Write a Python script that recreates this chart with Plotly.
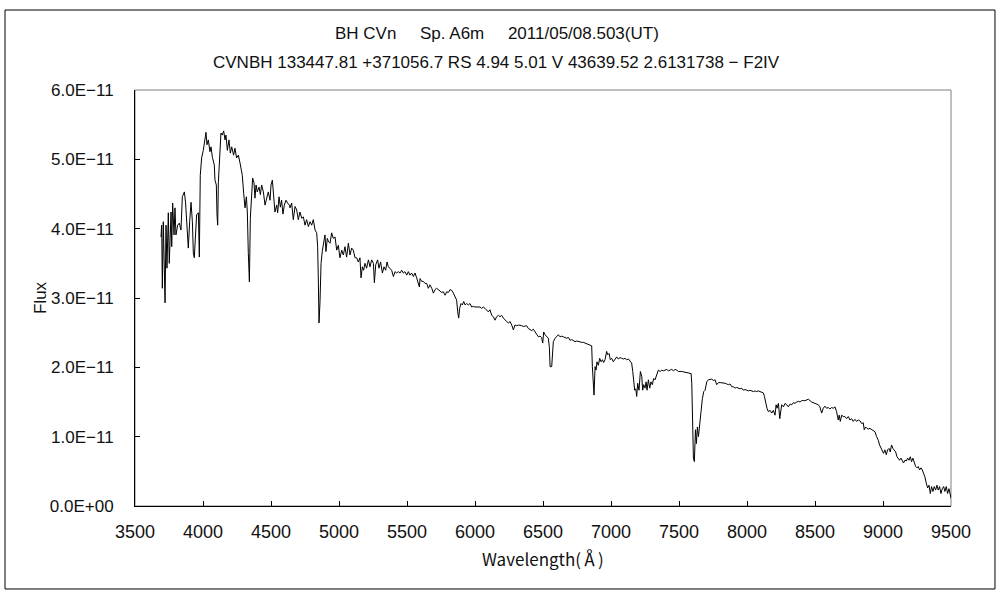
import plotly.graph_objects as go

# Wavelength (Angstrom) and flux (units of 1e-11), by region
blue_wl = [3691,3696,3701,3708,3721,3728,3735,3745,3752,3765,
           3770,3777,3787,3794,3801,3814,3826,3838,3848,3863,
           3872,3882,3892,3902,3912,3922,3929,3936,3944,3953,
           3966,3973,3980,3990,4002,4015,4022,4029,4039,4051,
           4059,4069,4083,4088,4098,4103,4108,4113,4122,4132,
           4142,4152,4162,4169,4179,4191,4201,4211,4225,4235,
           4247,4260,4272,4279,4289,4299,4309,4319,4326,4333,
           4341,4348,4358,4365,4375,4382,4390,4399,4412,4422,
           4431,4444,4456,4468,4480,4493,4500,4510,4520,4529,
           4542,4549,4559,4569,4578,4588,4598,4610,4622,4635]
blue_fl = [3.88,4.05,3.14,4.10,2.93,4.05,3.43,4.23,3.50,4.24,
           3.74,4.37,3.91,4.30,3.91,4.05,4.08,3.98,4.46,4.53,
           4.37,3.95,3.72,4.10,4.38,4.10,3.65,3.58,3.95,4.20,
           4.23,3.59,4.77,5.02,5.13,5.31,5.39,5.21,5.28,5.11,
           5.18,5.03,4.92,4.70,4.63,4.20,4.05,4.67,5.11,5.38,
           5.35,5.41,5.28,5.35,5.13,5.28,5.09,5.18,5.06,5.16,
           5.02,5.06,4.95,4.87,4.77,4.51,4.30,4.46,4.24,3.66,
           3.23,4.15,4.53,4.73,4.66,4.44,4.63,4.53,4.60,4.49,
           4.63,4.53,4.34,4.46,4.53,4.41,4.63,4.70,4.38,4.24,
           4.34,4.23,4.46,4.31,4.41,4.21,4.34,4.41,4.37,4.34]

hbeta_wl = [4640,4652,4664,4677,4689,4701,4713,4726,4738,4750,
            4762,4775,4787,4799,4811,4824,4836,4843,4848,4853,
            4860,4868,4878,4887,4897,4904,4914,4924,4934,4946,
            4958,4971,4983,4995,5007,5020,5032,5044,5056,5069,
            5081,5093,5105,5118,5130,5142,5154,5162,5172,5181,
            5191,5203,5216,5228,5240,5253,5260,5270,5284,5294,
            5306,5319,5331,5343,5353,5363,5375,5387,5400,5412,
            5424,5436,5449,5461,5473,5485,5498,5510,5522,5534,
            5547,5559,5571,5583,5591]
hbeta_fl = [4.30,4.37,4.13,4.32,4.27,4.13,4.24,4.15,4.17,4.05,
            4.13,4.03,4.10,4.05,4.13,3.98,3.94,3.74,3.26,2.64,
            2.93,3.50,3.69,3.81,3.91,3.67,3.86,3.81,3.79,3.94,
            3.86,3.88,3.69,3.76,3.58,3.69,3.62,3.74,3.59,3.79,
            3.62,3.72,3.69,3.58,3.58,3.52,3.58,3.29,3.45,3.40,
            3.50,3.43,3.55,3.45,3.55,3.50,3.22,3.48,3.55,3.43,
            3.52,3.36,3.45,3.40,3.52,3.45,3.43,3.40,3.31,3.38,
            3.36,3.38,3.36,3.40,3.36,3.38,3.33,3.38,3.33,3.36,
            3.31,3.36,3.29,3.19,3.16]

nad_wl = [5596,5608,5620,5633,5645,5657,5669,5682,5694,5706,
          5718,5731,5743,5755,5767,5780,5792,5804,5816,5829,
          5841,5853,5865,5873,5880,5887,5897,5907,5917,5927,
          5939,5951,5963,5976,5988,6000,6012,6025,6037,6049,
          6061,6074,6086,6098,6110,6123,6135,6147,6159,6172,
          6184,6196,6209,6221,6233,6245,6258,6270,6282,6294,
          6307,6319,6331,6343,6356,6368,6380,6392,6405,6417,
          6429,6441,6454,6466,6478,6490,6498,6505,6515,6527,
          6539,6547]
nad_fl = [3.28,3.24,3.24,3.21,3.21,3.14,3.19,3.14,3.07,3.12,
          3.14,3.12,3.09,3.08,3.09,3.04,3.09,3.08,3.12,3.11,
          3.07,3.02,2.97,2.80,2.71,2.85,2.92,2.90,2.95,2.90,
          2.92,2.90,2.92,2.87,2.88,2.87,2.87,2.88,2.87,2.85,
          2.87,2.85,2.83,2.80,2.83,2.75,2.73,2.68,2.73,2.75,
          2.73,2.75,2.71,2.68,2.66,2.64,2.66,2.61,2.54,2.61,
          2.60,2.61,2.61,2.60,2.59,2.59,2.60,2.56,2.54,2.53,
          2.55,2.51,2.47,2.44,2.45,2.43,2.35,2.51,2.47,2.45,
          2.42,2.29]

halpha_wl = [6552,6564,6569,6576,6589,6601,6613,6625,6638,6650,
             6662,6674,6687,6699,6711,6723,6736,6748,6760,6772,
             6785,6797,6809,6821,6834,6846,6858,6863,6868,6875,
             6883,6890,6897,6907,6917,6927,6937,6946,6956,6968,
             6976,6986,6995,7005,7017,7030,7042,7054,7066,7079,
             7091,7103,7115,7128,7140,7152,7160,7167,7174,7182,
             7189,7196,7206,7216,7226,7233,7240,7250,7258,7265,
             7275,7285,7294,7304,7314,7324,7336,7348,7361,7373,
             7385,7397,7410,7422,7434,7446,7459,7471,7483]
halpha_fl = [2.01,2.01,2.27,2.37,2.42,2.45,2.47,2.44,2.45,2.44,
             2.43,2.42,2.43,2.39,2.40,2.38,2.37,2.38,2.37,2.36,
             2.36,2.36,2.35,2.35,2.34,2.32,2.31,2.01,1.70,1.60,
             2.01,1.96,2.08,2.03,2.13,2.08,2.11,2.07,2.11,2.23,
             2.18,2.20,2.11,2.13,2.08,2.11,2.15,2.12,2.14,2.13,
             2.12,2.13,2.11,2.12,2.08,2.06,1.94,1.72,1.67,1.69,
             1.58,1.77,1.67,1.94,1.87,1.67,1.75,1.70,1.79,1.67,
             1.82,1.70,1.79,1.75,1.84,1.82,1.91,1.96,1.94,1.96,
             1.95,1.96,1.97,1.95,1.96,1.97,1.95,1.97,1.96]

aband_wl = [7496,7520,7545,7569,7589,7594,7598,7606,7613,7621,
            7628,7635,7643,7652,7662,7672,7682,7692,7704,7716,
            7728,7741,7753,7765,7777,7790,7802,7814,7826,7839,
            7851,7863,7875,7888,7900,7912,7924,7937,7949,7961,
            7973,7986,7998,8010,8022,8035,8047,8059,8071,8084,
            8096,8108,8121,8128,8138,8147,8157,8170,8182,8194,
            8206,8214,8221,8231,8241,8248,8255,8268,8280,8292,
            8304,8317,8329,8341,8353,8366,8378,8390,8402,8415,
            8427,8451]
aband_fl = [1.94,1.94,1.93,1.91,1.91,1.77,1.14,0.69,0.64,1.10,
            0.90,1.14,1.00,1.14,1.36,1.55,1.65,1.67,1.79,1.82,
            1.82,1.83,1.81,1.82,1.75,1.78,1.78,1.78,1.77,1.77,
            1.76,1.75,1.76,1.72,1.72,1.70,1.71,1.70,1.69,1.70,
            1.67,1.68,1.67,1.66,1.67,1.66,1.65,1.66,1.65,1.66,
            1.65,1.64,1.63,1.58,1.48,1.41,1.36,1.38,1.34,1.38,
            1.31,1.46,1.41,1.48,1.26,1.41,1.46,1.43,1.48,1.46,
            1.43,1.47,1.46,1.49,1.48,1.50,1.51,1.50,1.52,1.52,
            1.52,1.54]

red_wl = [8475,8500,8524,8536,8549,8561,8573,8585,8598,8610,
          8622,8634,8647,8659,8671,8678,8686,8696,8708,8720,
          8732,8745,8757,8769,8781,8794,8806,8818,8830,8843,
          8855,8862,8872,8882,8892,8904,8916,8928,8941,8953,
          8965,8975,8985,8995,9004,9014,9024,9034,9044,9053,
          9063,9073,9083,9093,9103,9112,9122,9132,9142,9151,
          9161,9171,9181,9191,9201,9210,9220,9230,9240,9250,
          9259,9269,9279,9289,9299,9308,9318,9328,9338,9348,
          9357,9367,9377,9387,9397,9406,9416,9426,9436,9446,
          9455,9465,9475,9485,9495,9500]
red_fl = [1.50,1.48,1.46,1.43,1.34,1.41,1.44,1.41,1.42,1.40,
          1.42,1.41,1.43,1.36,1.24,1.31,1.22,1.31,1.29,1.29,
          1.26,1.29,1.24,1.26,1.22,1.25,1.22,1.24,1.23,1.19,
          1.20,1.10,1.14,1.12,1.11,1.12,1.10,1.09,1.07,1.00,
          0.95,0.88,0.83,0.78,0.76,0.81,0.74,0.81,0.83,0.78,
          0.88,0.83,0.81,0.78,0.71,0.69,0.66,0.69,0.64,0.62,
          0.66,0.65,0.69,0.66,0.71,0.64,0.69,0.62,0.57,0.55,
          0.57,0.52,0.55,0.52,0.47,0.42,0.33,0.26,0.30,0.18,
          0.28,0.21,0.28,0.23,0.30,0.23,0.28,0.18,0.25,0.28,
          0.21,0.28,0.18,0.25,0.16,0.11]

x_ticks = [3500,4000,4500,5000,5500,6000,6500,7000,7500,8000,8500,9000,9500]
y_tick_vals = [0, 1e-11, 2e-11, 3e-11, 4e-11, 5e-11, 6e-11]
y_tick_text = ["0.0E+00","1.0E\u221211","2.0E\u221211","3.0E\u221211",
               "4.0E\u221211","5.0E\u221211","6.0E\u221211"]

title1 = "BH CVn\u00a0\u00a0\u00a0\u00a0 Sp. A6m\u00a0\u00a0\u00a0\u00a0 2011/05/08.503(UT)"
title2 = "CVNBH 133447.81 +371056.7 RS 4.94 5.01 V 43639.52 2.6131738 \u2212 F2IV"

segments = [(blue_wl, blue_fl), (hbeta_wl, hbeta_fl), (nad_wl, nad_fl),
            (halpha_wl, halpha_fl), (aband_wl, aband_fl), (red_wl, red_fl)]
wl, fl = [], []
for w, f in segments:
    assert len(w) == len(f), (len(w), len(f), w[0])
    wl += w
    fl += [v * 1e-11 for v in f]

FONT = "Liberation Sans, Noto Sans CJK JP, sans-serif"

fig = go.Figure()
fig.add_trace(go.Scatter(x=wl, y=fl, mode="lines",
                         line=dict(color="black", width=1), showlegend=False))

fig.update_layout(
    width=1000, height=600,
    margin=dict(l=135, r=49, t=90, b=94),
    paper_bgcolor="white", plot_bgcolor="white",
    font=dict(family=FONT, size=16, color="#111"),
    xaxis=dict(range=[3500, 9500], tickvals=x_ticks, ticks="inside", ticklen=5,
               tickcolor="black", showline=True, linecolor="black", linewidth=1,
               showgrid=False, zeroline=False, ticklabelstandoff=9,
               tickfont=dict(size=18)),
    yaxis=dict(range=[0, 6e-11], tickvals=y_tick_vals, ticktext=y_tick_text,
               ticks="inside", ticklen=5, tickcolor="black", showline=True,
               linecolor="black", linewidth=1, showgrid=False, zeroline=False,
               ticklabelstandoff=17, tickfont=dict(size=17)),
    shapes=[
        dict(type="rect", xref="paper", yref="paper", x0=0, x1=1, y0=0, y1=1,
             line=dict(color="#808080", width=1), layer="below"),
        dict(type="rect", xref="paper", yref="paper", x0=-0.1593, x1=1.0539,
             y0=-0.1995, y1=1.1923, line=dict(color="black", width=1)),
    ],
    annotations=[
        dict(text=title1, xref="paper", yref="paper", x=0.4436, y=1.137,
             showarrow=False, xanchor="center", yanchor="middle",
             font=dict(size=17)),
        dict(text=title2, xref="paper", yref="paper", x=0.4436, y=1.0673,
             showarrow=False, xanchor="center", yanchor="middle",
             font=dict(size=17)),
        dict(text="Flux", xref="paper", yref="paper", x=-0.1164, y=0.5,
             showarrow=False, textangle=-90, xanchor="center", yanchor="middle",
             font=dict(size=17)),
        dict(text="Wavelength(\u212b)", xref="paper", yref="paper", x=0.5, y=-0.125,
             showarrow=False, xanchor="center", yanchor="middle",
             font=dict(size=17, family="Noto Sans CJK JP, Liberation Sans")),
    ],
)

fig.write_html("out.html", config={"displayModeBar": False},
               post_script="document.body.style.margin='0';")
